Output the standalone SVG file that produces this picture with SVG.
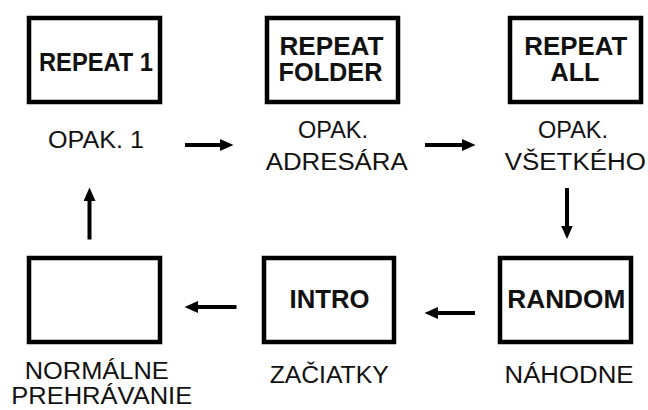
<svg xmlns="http://www.w3.org/2000/svg" width="648" height="410" viewBox="0 0 648 410">
<style>
.box{fill:#fff;stroke:#000;stroke-width:4.5}
.b{font-family:"Liberation Sans",Arial,sans-serif;font-weight:bold;font-size:25px;fill:#111;text-anchor:middle}
.r{font-family:"Liberation Sans",Arial,sans-serif;font-size:24.5px;fill:#111;text-anchor:middle}
.c{stroke:#000;stroke-width:4;fill:none;marker-end:url(#ah)}
</style>
<defs>
<marker id="ah" markerUnits="userSpaceOnUse" markerWidth="14" markerHeight="12" refX="3" refY="6" orient="auto">
<path d="M0,0 L13.5,6 L0,12 z" fill="#000"/>
</marker>
</defs>
<rect width="648" height="410" fill="#fff"/>
<g id="repeat1">
<rect class="box" x="29" y="18" width="131" height="84"/>
<text class="b" x="96" y="71" textLength="114" lengthAdjust="spacingAndGlyphs">REPEAT 1</text>
<text class="r" x="96" y="148" textLength="96" lengthAdjust="spacingAndGlyphs">OPAK. 1</text>
</g>
<g id="repeatfolder">
<rect class="box" x="267" y="18" width="131" height="84"/>
<text class="b" x="331.5" y="55" textLength="104" lengthAdjust="spacingAndGlyphs">REPEAT</text>
<text class="b" x="330.5" y="81" textLength="104" lengthAdjust="spacingAndGlyphs">FOLDER</text>
<text class="r" x="333" y="138" textLength="70" lengthAdjust="spacingAndGlyphs">OPAK.</text>
<text class="r" x="336.7" y="170" textLength="142" lengthAdjust="spacingAndGlyphs">ADRESÁRA</text>
</g>
<g id="repeatall">
<rect class="box" x="510" y="18" width="131" height="84"/>
<text class="b" x="575.8" y="55" textLength="103" lengthAdjust="spacingAndGlyphs">REPEAT</text>
<text class="b" x="575" y="81" textLength="49" lengthAdjust="spacingAndGlyphs">ALL</text>
<text class="r" x="573" y="138" textLength="70" lengthAdjust="spacingAndGlyphs">OPAK.</text>
<text class="r" x="575.3" y="170" textLength="141" lengthAdjust="spacingAndGlyphs">VŠETKÉHO</text>
</g>
<g id="random">
<rect class="box" x="500" y="258" width="131" height="84"/>
<text class="b" x="566.3" y="308" textLength="118" lengthAdjust="spacingAndGlyphs">RANDOM</text>
<text class="r" x="569" y="383" textLength="129" lengthAdjust="spacingAndGlyphs">NÁHODNE</text>
</g>
<g id="intro">
<rect class="box" x="264" y="258" width="130" height="84"/>
<text class="b" x="329.5" y="308" textLength="80" lengthAdjust="spacingAndGlyphs">INTRO</text>
<text class="r" x="329.2" y="383" textLength="119" lengthAdjust="spacingAndGlyphs">ZAČIATKY</text>
</g>
<g id="normal">
<rect class="box" x="29" y="258" width="131" height="84"/>
<text class="r" x="96.7" y="379" textLength="144" lengthAdjust="spacingAndGlyphs">NORMÁLNE</text>
<text class="r" x="101.7" y="404" textLength="181" lengthAdjust="spacingAndGlyphs">PREHRÁVANIE</text>
</g>
<g id="connectors">
<line class="c" x1="185" y1="145" x2="223" y2="145"/>
<line class="c" x1="425" y1="145" x2="465" y2="145"/>
<line class="c" x1="567" y1="188" x2="567" y2="228.5"/>
<line class="c" x1="475" y1="313" x2="435" y2="313"/>
<line class="c" x1="236.5" y1="307" x2="195" y2="307"/>
<line class="c" x1="89.5" y1="239.5" x2="89.5" y2="198"/>
</g>
</svg>
